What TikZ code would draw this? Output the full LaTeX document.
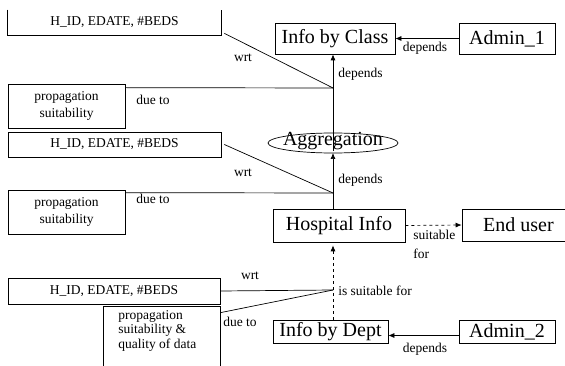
\documentclass[tikz,border=0pt]{standalone}
\usepackage{fontspec}
\setmainfont{Liberation Serif}
\usetikzlibrary{arrows.meta,calc}

\newcommand{\smalltxt}{\fontsize{13.5}{17}\selectfont}
\newcommand{\bigtxt}{\fontsize{20}{22}\selectfont}

\begin{document}
\begin{tikzpicture}[x=1pt,y=-1pt,line width=0.7pt,
  >={Latex[length=6pt,width=5pt]},
  attr/.style={inner sep=0pt,font=\smalltxt},
  info/.style={draw,inner sep=0pt,font=\bigtxt},
  lbl/.style={inner sep=0pt,font=\smalltxt}]
\useasboundingbox (0,0) rectangle (565,366);

\coordinate (j1) at (333,88);
\coordinate (j2) at (333,193);
\coordinate (j3) at (333,290);

% entities
\node[info,minimum width=120pt,minimum height=31pt] (class) at (335,38.5) {Info by Class};
\node[info,minimum width=96pt,minimum height=31pt] (admin1) at (507,38.5) {Admin\_1};
\node[inner sep=0pt,font=\bigtxt] (agg) at (333,141) {Aggregation};
\draw (333,143) ellipse (65 and 10);
\node[info,minimum width=132pt,minimum height=33pt] (hosp) at (339,225.5) {Hospital Info};
\node[info,minimum width=113pt,minimum height=32pt] (user) at (518.5,225) {End user};
\node[info,minimum width=115pt,minimum height=23pt] (dept) at (330.5,331.5) {Info by Dept};
\node[info,minimum width=96pt,minimum height=23pt] (admin2) at (507,331.5) {Admin\_2};

% attribute boxes
\node[attr,minimum width=213pt,minimum height=25pt] (ids1) at (114.5,22.5) {H\_ID, EDATE, \#BEDS};
\draw (ids1.north west) -- (ids1.south west) -- (ids1.south east) -- (ids1.north east);
\node[attr,draw,minimum width=117pt,minimum height=44pt,align=center] (prop1) at (66.5,106) {propagation\\suitability};

\node[attr,draw,minimum width=213pt,minimum height=25pt] (ids2) at (114.5,144.5) {H\_ID, EDATE, \#BEDS};
\node[attr,draw,minimum width=117pt,minimum height=44pt,align=center] (prop2) at (66.5,212) {propagation\\suitability};

\node[attr,draw,minimum width=212pt,minimum height=26pt] (ids3) at (114,291) {H\_ID, EDATE, \#BEDS};
\node[attr,minimum width=116pt,minimum height=63pt] (prop3) at (162,338.5) {};
\node[attr,anchor=north west,align=left,font=\fontsize{13.5}{14.5}\selectfont] (prop3txt) at (118,310) {propagation\\suitability \&\\quality of data};
\draw (prop3.south west) -- (prop3.north west) -- (prop3.north east) -- (prop3.south east);

% connectors
\draw ([xshift=3pt,yshift=2pt]ids1.south east) -- (j1);
\draw ([yshift=-4pt]prop1.north east) -- (j1);
\draw[->] ([yshift=-10pt]agg.center) -- (j1 |- class.south);
\draw[->] (admin1.west) -- (class.east);

\draw ([xshift=3pt]ids2.east) -- (j2);
\draw ([yshift=-3pt]prop2.north east) -- (j2);
\draw[->] (j1 |- hosp.north) -- (333,153);
\draw[->,dashed] (hosp.east) -- (user.west);

\draw (ids3.east) -- (j3);
\draw ([yshift=-6pt]prop3.north east) -- (j3);
\draw[->,dashed] (j1 |- dept.north) -- ([yshift=-3pt]j1 |- hosp.south);
\draw[->] ([yshift=-4pt]admin2.west) -- ([yshift=-4pt]dept.east);

% labels
\node[lbl] (wrt1) at (243,58) {wrt};
\node[lbl] (due1) at (153,100) {due to};
\node[lbl,anchor=west] (dep1) at (338,74) {depends};
\node[lbl] (dep2) at (425,48) {depends};

\node[lbl] (wrt2) at (243,173) {wrt};
\node[lbl] (due2) at (153,199) {due to};
\node[lbl,anchor=west] (dep3) at (338,180) {depends};
\node[lbl,anchor=north west,align=left] (suit1) at (413,230) {suitable\\[2pt]for};

\node[lbl] (wrt3) at (250,276) {wrt};
\node[lbl] (due3) at (240,322) {due to};
\node[lbl,anchor=west] (suit2) at (338,291) {is suitable for};
\node[lbl] (dep4) at (425,349) {depends};
\end{tikzpicture}
\end{document}
